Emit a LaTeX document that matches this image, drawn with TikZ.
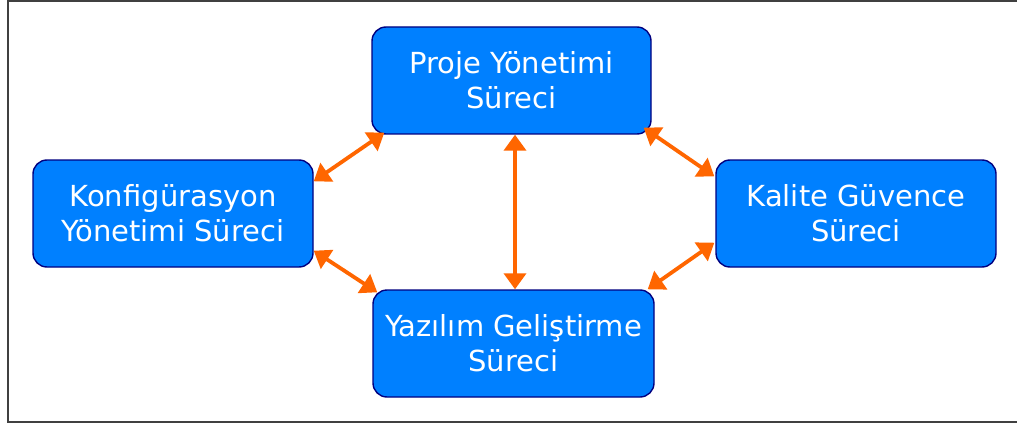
\documentclass[tikz,border=0pt]{standalone}
\usepackage{fontspec}
\setmainfont{DejaVu Sans}
\usetikzlibrary{arrows.meta}
\definecolor{boxfill}{RGB}{0,128,255}
\definecolor{boxline}{RGB}{0,0,128}
\definecolor{linkcol}{RGB}{255,102,0}
\definecolor{framecol}{RGB}{64,64,64}
\tikzset{
  procbox/.style={draw=boxline, line width=1.4pt, fill=boxfill, rounded corners=14pt,
    text=white, align=center, inner sep=0pt, minimum height=107pt,
    font=\fontsize{29}{35}\selectfont},
  link/.style={draw=linkcol, line width=3.8pt,
    {Triangle[length=16pt,width=22pt]}-{Triangle[length=16pt,width=22pt]}}
}
\begin{document}
\begin{tikzpicture}[x=1pt,y=-1pt]
  \useasboundingbox (0,0) rectangle (1017,425);
  \fill[white] (0,0) rectangle (1017,425);
  % outer frame, open on the right
  \draw[framecol, line width=2pt] (1017,1) -- (8,1) -- (8,421.5) -- (1017,421.5);

  % process boxes
  \node[procbox, minimum width=279pt] (top)    at (511.5,80.5)  {Proje Yönetimi\\Süreci};
  \node[procbox, minimum width=280pt] (left)   at (173,213.5)   {Konfigürasyon\\Yönetimi Süreci};
  \node[procbox, minimum width=280pt] (right)  at (856,213.5)   {Kalite Güvence\\Süreci};
  \node[procbox, minimum width=281pt] (bottom) at (513.5,343.5) {Yazılım Geliştirme\\Süreci};

  % two-way links
  \draw[link] ([shift={(13,-2)}]top.south west) -- ([shift={(0,22)}]left.north east);
  \draw[link] ([shift={(0,-17)}]left.south east) -- ([shift={(5,3)}]bottom.north west);
  \draw[link] ([shift={(3.5,0)}]top.south) -- ([shift={(1.5,0)}]bottom.north);
  \draw[link] ([shift={(-8,-7)}]top.south east) -- ([shift={(-1,17)}]right.north west);
  \draw[link] ([shift={(-1,-25)}]right.south west) -- ([shift={(-7,0)}]bottom.north east);
\end{tikzpicture}
\end{document}
